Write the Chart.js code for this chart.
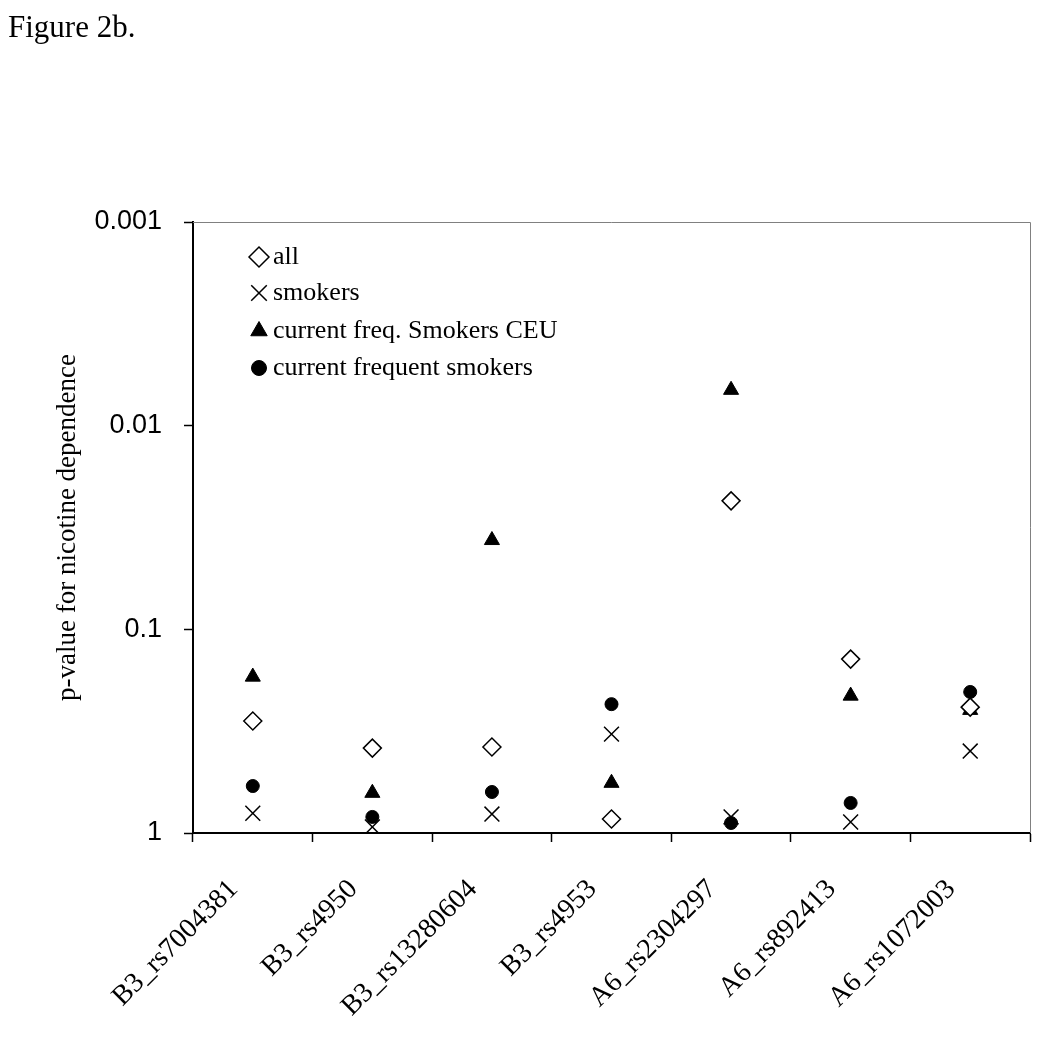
<!DOCTYPE html>
<html>
<head>
<meta charset="utf-8">
<title>Figure 2b</title>
<script src="https://cdn.jsdelivr.net/npm/chart.js@4.4.0/dist/chart.umd.min.js"></script>
<style>
    html, body { margin: 0; padding: 0; background: #fff; }
    #chart { display: block; }
</style>
</head>
<body>
<canvas id="chart" width="1042" height="1050"></canvas>
<script>
// categorias (SNPs)
const snps = ['B3_rs7004381', 'B3_rs4950', 'B3_rs13280604', 'B3_rs4953', 'A6_rs2304297', 'A6_rs892413', 'A6_rs1072003'];

// p-values
const pAll = [0.282, 0.383, 0.378, 0.853, 0.0234, 0.140, 0.241];
const pSmokers = [0.80, 0.934, 0.807, 0.327, 0.834, 0.883, 0.396];
const pCeu = [0.171, 0.636, 0.0365, 0.568, 0.00668, 0.212, 0.249];
const pCurrent = [0.588, 0.834, 0.629, 0.233, 0.893, 0.712, 0.203];

const seriesNames = ['all', 'smokers', 'current freq. Smokers CEU', 'current frequent smokers'];

// ticks del eje y
const yTicks = [1, 0.1, 0.01, 0.001];
const yTickLabels = ['1', '0.1', '0.01', '0.001'];

const serif = '"Liberation Serif", "Times New Roman", serif';

// leyenda dentro del area + bordes grises + titulo de la figura
const extras = {
    id: 'extras',
    afterDraw(chart) {
        const ctx = chart.ctx;
        const a = chart.chartArea;
        ctx.save();

        // borde gris arriba y derecha
        ctx.strokeStyle = '#808080';
        ctx.lineWidth = 1;
        ctx.beginPath();
        ctx.moveTo(a.left, a.top + 0.5);
        ctx.lineTo(a.right + 0.5, a.top + 0.5);
        ctx.lineTo(a.right + 0.5, a.bottom);
        ctx.stroke();

        // titulo
        ctx.fillStyle = '#000';
        ctx.font = '31px ' + serif;
        ctx.textAlign = 'left';
        ctx.textBaseline = 'alphabetic';
        ctx.fillText('Figure 2b.', 8, 37);

        // leyenda
        const rowY = [257, 293, 331, 368];
        const legendRadius = [10, 11, 9.5, 7.5];
        chart.data.datasets.forEach((ds, i) => {
            ctx.fillStyle = ds.backgroundColor;
            ctx.strokeStyle = ds.borderColor;
            ctx.lineWidth = ds.borderWidth;
            Chart.helpers.drawPoint(ctx, {
                pointStyle: ds.pointStyle,
                radius: legendRadius[i],
                rotation: 0,
                borderWidth: ds.borderWidth
            }, 259, rowY[i]);
            ctx.fillStyle = '#000';
            ctx.font = '26px ' + serif;
            ctx.textBaseline = 'middle';
            ctx.fillText(ds.label, 273, rowY[i]);
        });
        ctx.restore();
    }
};

const ctx = document.getElementById('chart').getContext('2d');
const chart = new Chart(ctx, {
    type: 'line',
    data: {
        labels: snps,
        datasets: [{
            label: seriesNames[0],
            data: pAll,
            pointStyle: 'rectRot',
            pointRadius: 9,
            backgroundColor: '#fff',
            borderColor: '#000',
            borderWidth: 1.5,
            showLine: false
        }, {
            label: seriesNames[1],
            data: pSmokers,
            pointStyle: 'crossRot',
            pointRadius: 10.5,
            backgroundColor: '#000',
            borderColor: '#000',
            borderWidth: 1.5,
            showLine: false
        }, {
            label: seriesNames[2],
            data: pCeu,
            pointStyle: 'triangle',
            pointRadius: 8.7,
            backgroundColor: '#000',
            borderColor: '#000',
            borderWidth: 1,
            showLine: false
        }, {
            label: seriesNames[3],
            data: pCurrent,
            pointStyle: 'circle',
            pointRadius: 6.5,
            backgroundColor: '#000',
            borderColor: '#000',
            borderWidth: 1,
            showLine: false
        }]
    },
    options: {
        responsive: false,
        animation: false,
        layout: { padding: { top: 222, right: 11, left: 0, bottom: 0 } },
        plugins: {
            legend: { display: false },
            tooltip: { enabled: false }
        },
        scales: {
            x: {
                type: 'category',
                offset: true,
                grid: {
                    offset: true,
                    drawOnChartArea: false,
                    drawTicks: true,
                    tickLength: 9,
                    tickColor: '#000',
                    tickWidth: 1.5
                },
                border: { display: true, color: '#000', width: 2 },
                ticks: {
                    color: '#000',
                    font: { family: serif, size: 28 },
                    minRotation: 45,
                    maxRotation: 45,
                    autoSkip: false,
                    padding: 31,
                    labelOffset: -19
                },
                afterFit(scale) { scale.height = 217; }
            },
            y: {
                type: 'logarithmic',
                reverse: true,
                min: 0.001,
                max: 1,
                afterBuildTicks(scale) {
                    scale.ticks = yTicks.map(v => ({ value: v }));
                },
                grid: {
                    drawOnChartArea: false,
                    drawTicks: true,
                    tickLength: 9,
                    tickColor: '#000',
                    tickWidth: 1.5
                },
                border: { display: true, color: '#000', width: 2 },
                ticks: {
                    color: '#000',
                    font: { family: '"Liberation Sans", Arial, sans-serif', size: 27 },
                    padding: 22,
                    callback: function(value) {
                        const i = yTicks.indexOf(value);
                        return i >= 0 ? yTickLabels[i] : '';
                    }
                },
                title: {
                    display: true,
                    text: 'p-value for nicotine dependence',
                    color: '#000',
                    font: { family: serif, size: 27 },
                    padding: { top: 52, bottom: 0 }
                },
                afterFit(scale) { scale.width = 193; }
            }
        }
    },
    plugins: [extras]
});
</script>
</body>
</html>
